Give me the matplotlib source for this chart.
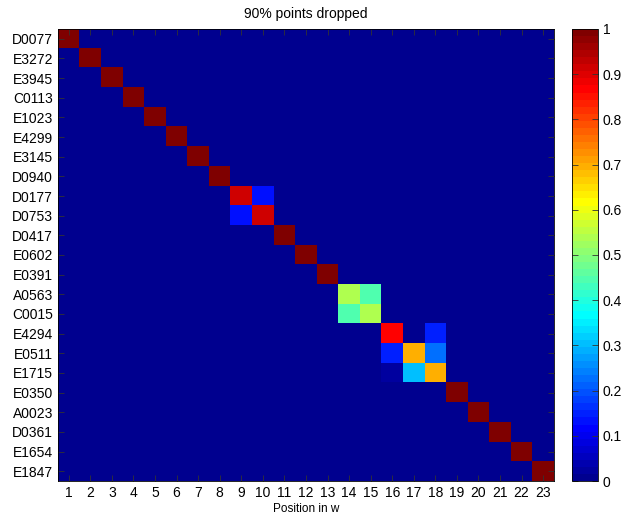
import matplotlib.pyplot as plt
from matplotlib.colors import ListedColormap
import numpy as np

plt.rcParams['font.family'] = ['Liberation Sans', 'DejaVu Sans']

names = ['D0077', 'E3272', 'E3945', 'C0113', 'E1023', 'E4299', 'E3145', 'D0940',
         'D0177', 'D0753', 'D0417', 'E0602', 'E0391', 'A0563', 'C0015', 'E4294',
         'E0511', 'E1715', 'E0350', 'A0023', 'D0361', 'E1654', 'E1847']
positions = list(range(1, 24))

# off-diagonal structure: (row, col) -> weight, 1-based
block_d0177 = {(9, 9): 0.91, (9, 10): 0.14, (10, 9): 0.14, (10, 10): 0.91}
block_a0563 = {(14, 14): 0.54, (14, 15): 0.45, (15, 14): 0.45, (15, 15): 0.54}
block_e4294 = {(16, 16): 0.87, (16, 17): 0.0, (16, 18): 0.15,
               (17, 16): 0.15, (17, 17): 0.70, (17, 18): 0.23,
               (18, 16): 0.03, (18, 17): 0.31, (18, 18): 0.70}

n = len(names)
W = np.eye(n)
for block in (block_d0177, block_a0563, block_e4294):
    for (r, c), v in block.items():
        W[r - 1, c - 1] = v


def matlab_jet(m=64):
    q = int(np.ceil(m / 4))
    u = np.concatenate([np.arange(1, q + 1) / q, np.ones(q - 1), np.arange(q, 0, -1) / q])
    g = int(np.ceil(q / 2)) - (1 if m % 4 == 1 else 0) + np.arange(1, len(u) + 1)
    r = g + q
    b = g - q
    J = np.zeros((m, 3))
    for col, idx in ((0, r), (1, g), (2, b)):
        ok = (idx >= 1) & (idx <= m)
        J[idx[ok] - 1, col] = u[ok]
    return ListedColormap(J)


fig = plt.figure(figsize=(6.27, 5.19), dpi=100)
ax = fig.add_axes([0.0925, 0.0732, 0.791, 0.871])
cax = fig.add_axes([0.912, 0.0732, 0.0415, 0.871])

im = ax.imshow(W, cmap=matlab_jet(64), vmin=0, vmax=1, aspect='auto', interpolation='nearest')

ax.set_xticks(np.arange(n))
ax.set_xticklabels([str(p) for p in positions], fontsize=10)
ax.set_yticks(np.arange(n))
ax.set_yticklabels(names, fontsize=10)
ax.tick_params(direction='in', length=4, width=0.6, top=True, right=True, color='#333333')
ax.set_xlabel('Position in w', fontsize=8.5, labelpad=2)
ax.set_title('90% points dropped', fontsize=10, pad=8)
for s in ax.spines.values():
    s.set_linewidth(0.6)

cb = fig.colorbar(im, cax=cax, ticks=np.linspace(0, 1, 11))
cb.ax.set_yticklabels(['0', '0.1', '0.2', '0.3', '0.4', '0.5', '0.6', '0.7', '0.8', '0.9', '1'])
cb.ax.tick_params(direction='in', length=4, width=0.6, labelsize=10, left=True, color='#333333')
cb.outline.set_linewidth(0.6)

fig.savefig('out.png', dpi=100)
